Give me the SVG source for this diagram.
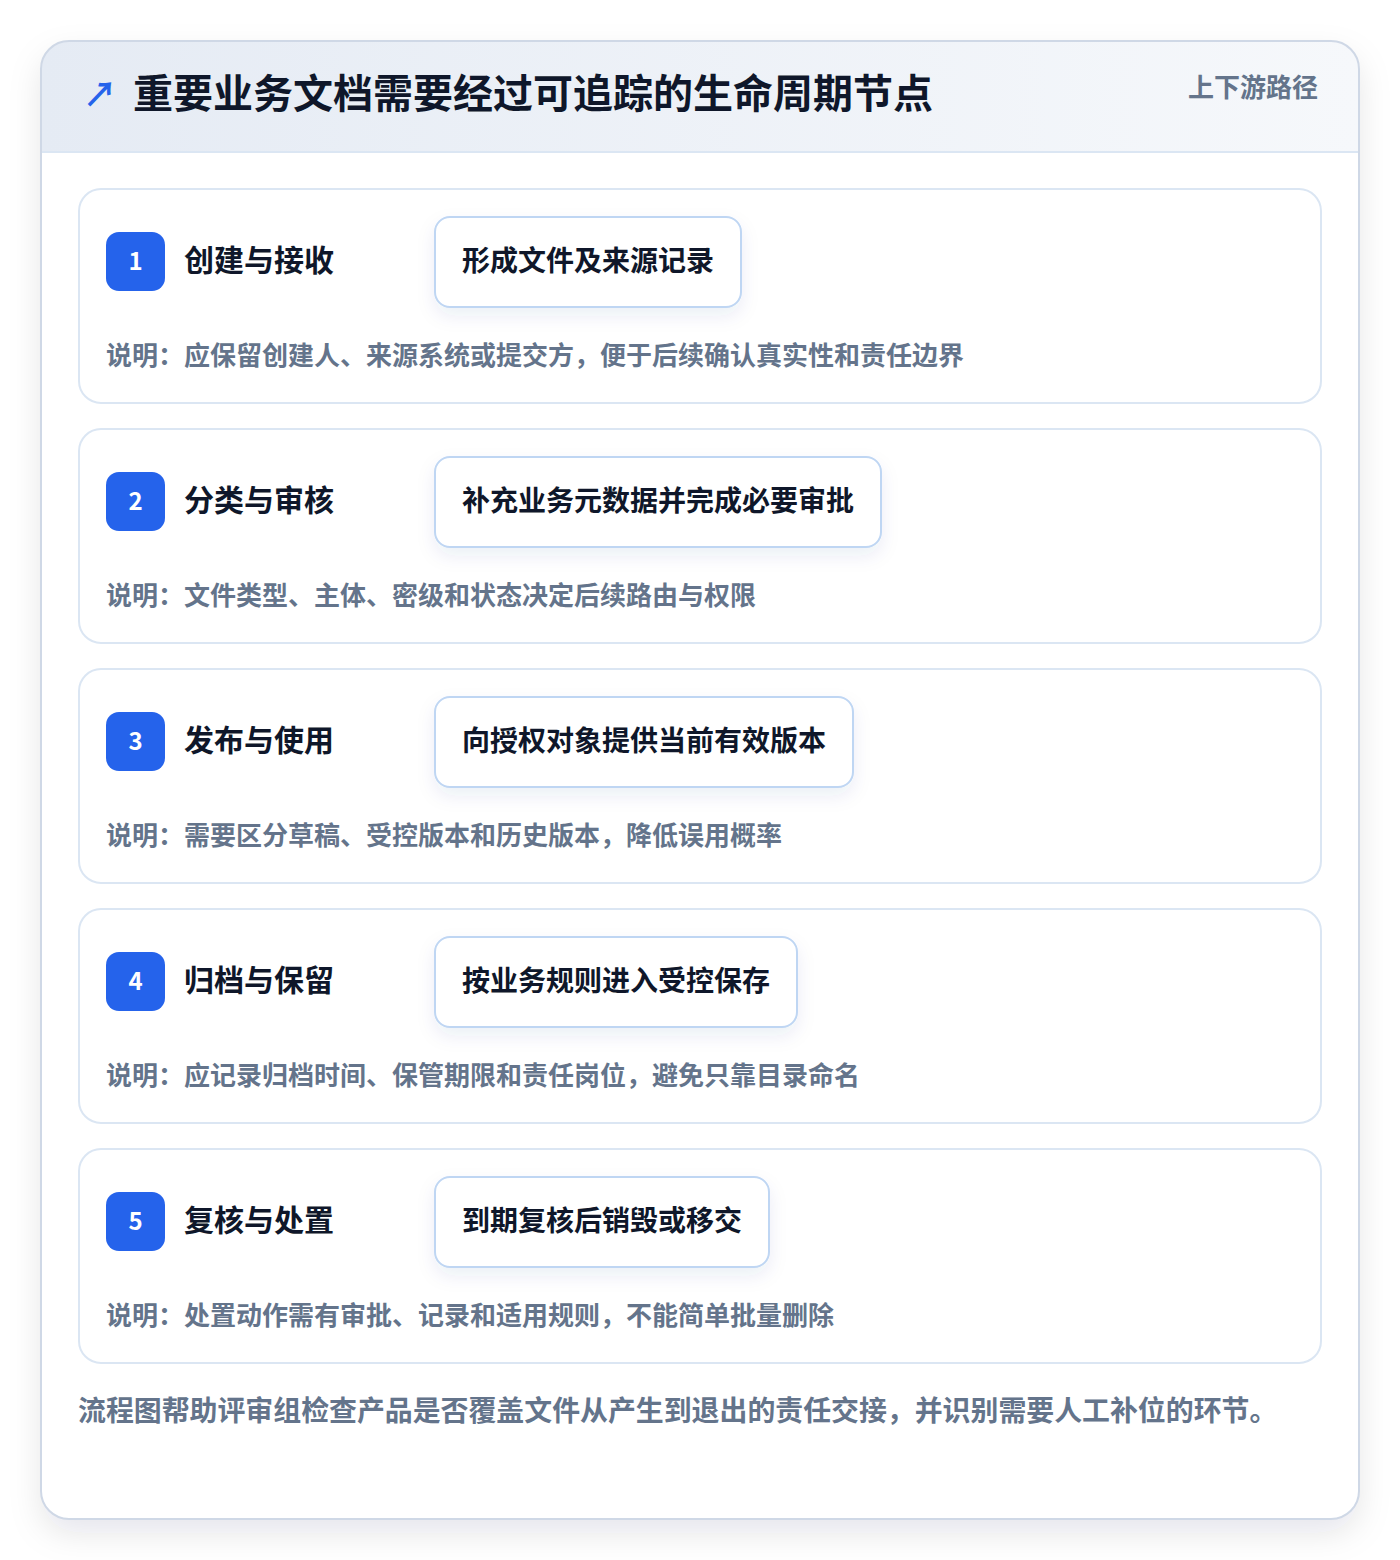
<svg xmlns="http://www.w3.org/2000/svg" width="1400" height="1560" viewBox="0 0 1400 1560">
<defs>
<linearGradient id="hdr" x1="0" y1="0" x2="1" y2="0"><stop offset="0" stop-color="#e5ebf4"/><stop offset="1" stop-color="#f6f8fb"/></linearGradient>
<filter id="sh" x="-10%" y="-10%" width="120%" height="120%"><feDropShadow dx="0" dy="14" stdDeviation="16" flood-color="#0f172a" flood-opacity="0.10"/></filter>
<filter id="bsh" x="-20%" y="-30%" width="140%" height="180%"><feDropShadow dx="0" dy="8" stdDeviation="9" flood-color="#1e3a8a" flood-opacity="0.08"/></filter>
<clipPath id="cardclip"><rect x="41" y="41" width="1318" height="1478" rx="28"/></clipPath>
<style>
text{font-family:"Noto Sans CJK SC","Noto Sans",sans-serif}
.card{fill:#ffffff;stroke:#dbe6f3;stroke-width:2}
.badge{fill:#2563eb}
.num{fill:#ffffff;font-size:24px;font-weight:700;text-anchor:middle}
.st{fill:#0f172a;font-size:30px;font-weight:700}
.box{fill:#ffffff;stroke:#bfd6f3;stroke-width:2}
.bt{fill:#0f172a;font-size:28px;font-weight:700}
.desc{fill:#64748b;font-size:26px;font-weight:600}
</style>
</defs>
<rect width="1400" height="1560" fill="#ffffff"/>
<g id="frame">
<rect x="41" y="41" width="1318" height="1478" rx="28" fill="#ffffff" filter="url(#sh)"/>
<g clip-path="url(#cardclip)"><rect x="41" y="41" width="1318" height="111" fill="url(#hdr)"/></g>
<line x1="41" y1="152" x2="1359" y2="152" stroke="#dbe6f3" stroke-width="2"/>
<rect x="41" y="41" width="1318" height="1478" rx="28" fill="none" stroke="#cfd8e6" stroke-width="2"/>
</g>
<g id="header">
<text x="83" y="107" font-size="34" font-weight="700" fill="#2563eb">↗</text>
<text x="133" y="108" font-size="40" font-weight="700" fill="#0f172a">重要业务文档需要经过可追踪的生命周期节点</text>
<text x="1318" y="97" font-size="26" font-weight="600" fill="#64748b" text-anchor="end">上下游路径</text>
</g>
<g id="step1">
<rect class="card" x="79" y="189" width="1242" height="214" rx="22"/>
<rect class="badge" x="106" y="232" width="59" height="59" rx="13"/>
<text class="num" x="135.5" y="270">1</text>
<text class="st" x="184" y="271">创建与接收</text>
<rect class="box" x="435" y="217" width="306" height="90" rx="15" filter="url(#bsh)"/>
<text class="bt" x="462" y="271">形成文件及来源记录</text>
<text class="desc" x="106" y="365">说明：应保留创建人、来源系统或提交方，便于后续确认真实性和责任边界</text>
</g>
<g id="step2">
<rect class="card" x="79" y="429" width="1242" height="214" rx="22"/>
<rect class="badge" x="106" y="472" width="59" height="59" rx="13"/>
<text class="num" x="135.5" y="510">2</text>
<text class="st" x="184" y="511">分类与审核</text>
<rect class="box" x="435" y="457" width="446" height="90" rx="15" filter="url(#bsh)"/>
<text class="bt" x="462" y="511">补充业务元数据并完成必要审批</text>
<text class="desc" x="106" y="605">说明：文件类型、主体、密级和状态决定后续路由与权限</text>
</g>
<g id="step3">
<rect class="card" x="79" y="669" width="1242" height="214" rx="22"/>
<rect class="badge" x="106" y="712" width="59" height="59" rx="13"/>
<text class="num" x="135.5" y="750">3</text>
<text class="st" x="184" y="751">发布与使用</text>
<rect class="box" x="435" y="697" width="418" height="90" rx="15" filter="url(#bsh)"/>
<text class="bt" x="462" y="751">向授权对象提供当前有效版本</text>
<text class="desc" x="106" y="845">说明：需要区分草稿、受控版本和历史版本，降低误用概率</text>
</g>
<g id="step4">
<rect class="card" x="79" y="909" width="1242" height="214" rx="22"/>
<rect class="badge" x="106" y="952" width="59" height="59" rx="13"/>
<text class="num" x="135.5" y="990">4</text>
<text class="st" x="184" y="991">归档与保留</text>
<rect class="box" x="435" y="937" width="362" height="90" rx="15" filter="url(#bsh)"/>
<text class="bt" x="462" y="991">按业务规则进入受控保存</text>
<text class="desc" x="106" y="1085">说明：应记录归档时间、保管期限和责任岗位，避免只靠目录命名</text>
</g>
<g id="step5">
<rect class="card" x="79" y="1149" width="1242" height="214" rx="22"/>
<rect class="badge" x="106" y="1192" width="59" height="59" rx="13"/>
<text class="num" x="135.5" y="1230">5</text>
<text class="st" x="184" y="1231">复核与处置</text>
<rect class="box" x="435" y="1177" width="334" height="90" rx="15" filter="url(#bsh)"/>
<text class="bt" x="462" y="1231">到期复核后销毁或移交</text>
<text class="desc" x="106" y="1325">说明：处置动作需有审批、记录和适用规则，不能简单批量删除</text>
</g>
<g id="connectors"></g>
<g id="footer">
<text x="78" y="1421" font-size="27.9" font-weight="600" fill="#64748b">流程图帮助评审组检查产品是否覆盖文件从产生到退出的责任交接，并识别需要人工补位的环节。</text>
</g>
</svg>
